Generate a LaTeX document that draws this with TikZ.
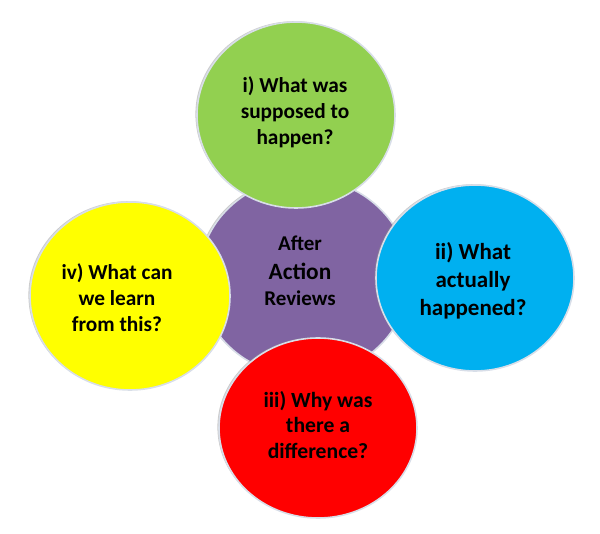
\documentclass[tikz,border=0pt]{standalone}
\usepackage{fontspec}
\setmainfont{Carlito}
\usetikzlibrary{shapes.geometric,shadows}
\definecolor{cgreen}{RGB}{146,208,80}
\definecolor{cblue}{RGB}{0,176,240}
\definecolor{cred}{RGB}{255,0,0}
\definecolor{cyellow}{RGB}{255,255,0}
\definecolor{cpurple}{RGB}{128,100,162}
\definecolor{crim}{RGB}{216,222,232}
\begin{document}
\begin{tikzpicture}[x=0.75pt,y=-0.75pt,
  bubble/.style={ellipse,draw=crim,line width=1.2pt,inner sep=0pt,
    drop shadow={shadow xshift=-1.2pt,shadow yshift=0.6pt,fill=black!45,opacity=0.45}},
  qtext/.style={align=center,font=\bfseries\fontsize{16}{19.5}\selectfont,text=black},
  ctext/.style={align=center,text=black,font=\bfseries\fontsize{15.75}{19.5}\selectfont}]
\useasboundingbox (0,0) rectangle (600,534);
\node[bubble,fill=cpurple,minimum width=157.5pt,minimum height=148.5pt] (centre) at (304,277) {};
\node[bubble,fill=cgreen,minimum width=148.5pt,minimum height=139.5pt] (green) at (296,115) {};
\node[bubble,fill=cblue,minimum width=148.5pt,minimum height=139.5pt] (blue) at (475,278) {};
\node[bubble,fill=cyellow,minimum width=150pt,minimum height=141pt] (yellow) at (130,296) {};
\node[bubble,fill=cred,minimum width=148.5pt,minimum height=135pt] (red) at (318,428) {};
\node[ctext] (ctitle) at (300,271) {After\\[2pt]{\fontsize{17.5}{19.5}\selectfont Action}\\Reviews};
\node[qtext] (gtext) at (295,112) {i) What was\\supposed to\\happen?};
\node[qtext,font=\bfseries\fontsize{17.25}{21}\selectfont] (btext) at (473,281) {ii) What\\actually\\happened?};
\node[qtext] (ytext) at (117,298) {iv) What can\\we learn\\from this?};
\node[qtext,font=\bfseries\fontsize{16.25}{19}\selectfont] (rtext) at (318,425) {iii) Why was\\there a\\difference?};
\end{tikzpicture}
\end{document}
